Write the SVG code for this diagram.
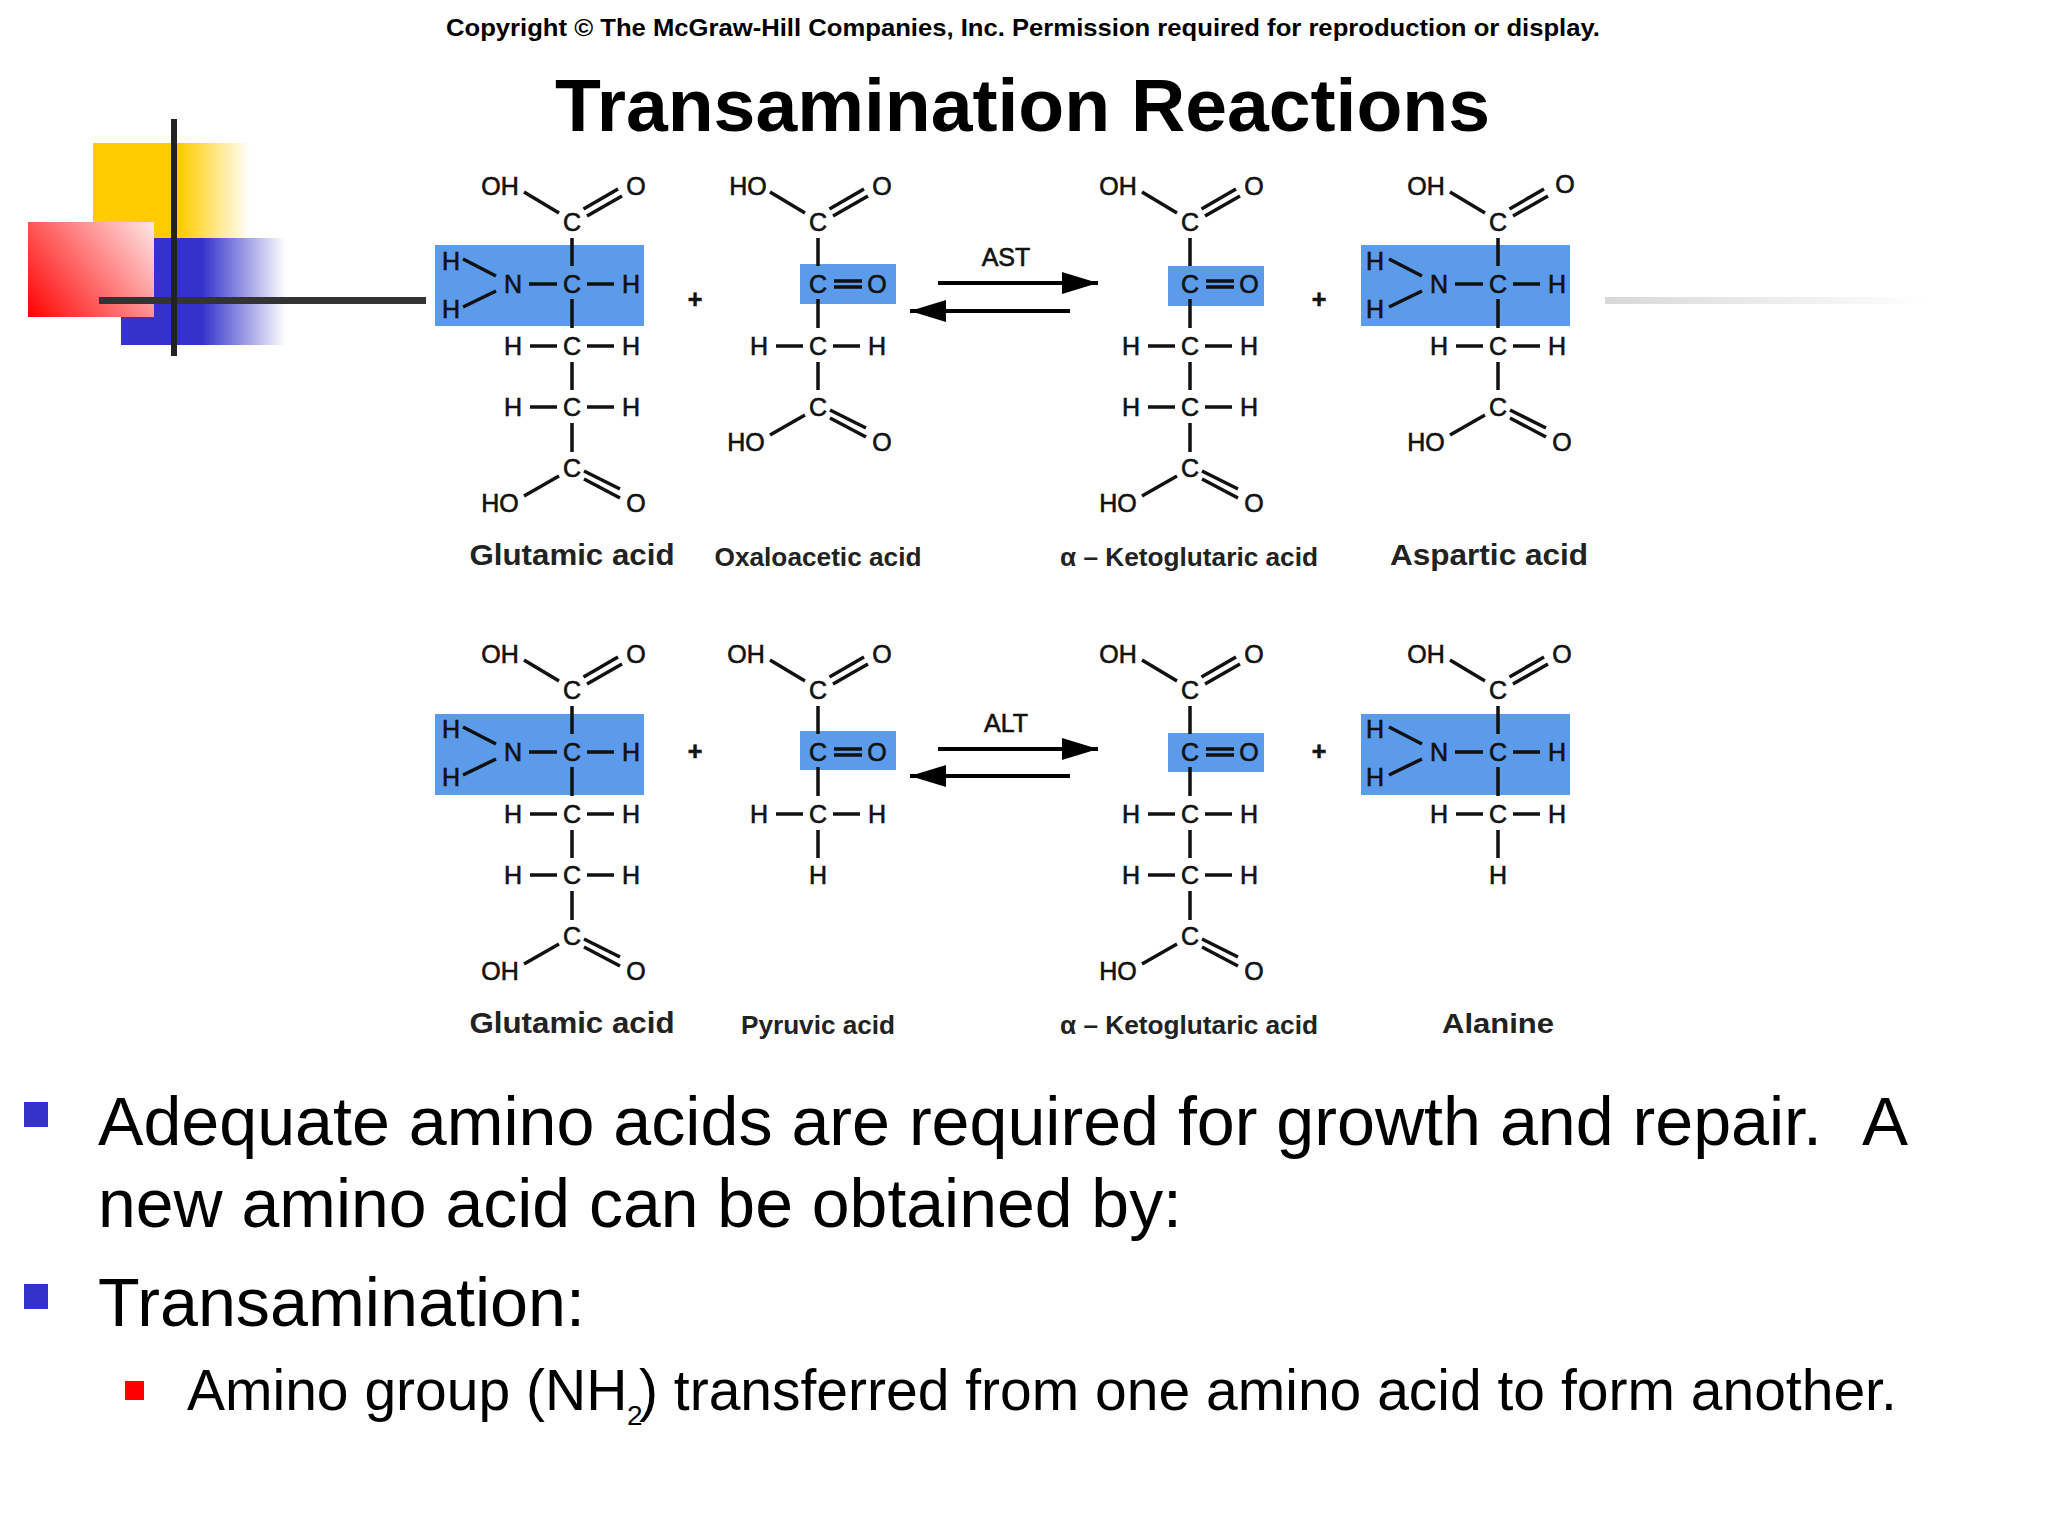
<svg xmlns="http://www.w3.org/2000/svg" width="2048" height="1536" viewBox="0 0 2048 1536">
<style>
text{font-family:"Liberation Sans",Arial,sans-serif;fill:#000;white-space:pre}
.a{font-size:25px;text-anchor:middle;fill:#111;stroke:#111;stroke-width:.6px;transform:translateY(1.3px)}
.n{font-size:25px;font-weight:700;text-anchor:middle;fill:#222}
.w{font-size:30px}
.b{font-size:69px}
.s{font-size:57px}
.l{stroke:#111;stroke-width:3.500;fill:none}
.box{fill:#5b9bea}
.ar{stroke:#000;stroke-width:4;fill:none}
</style>
<defs>
<linearGradient id="gy" gradientUnits="userSpaceOnUse" x1="180" y1="0" x2="250" y2="0"><stop offset="0" stop-color="#ffcc00"/><stop offset="1" stop-color="#fff"/></linearGradient>
<linearGradient id="gb" gradientUnits="userSpaceOnUse" x1="202" y1="0" x2="286" y2="0"><stop offset="0" stop-color="#3333cc"/><stop offset="1" stop-color="#fff"/></linearGradient>
<linearGradient id="gr" gradientUnits="userSpaceOnUse" x1="28" y1="318" x2="154" y2="222"><stop offset="0" stop-color="#ff0000"/><stop offset="1" stop-color="#ffe6e6"/></linearGradient>
<linearGradient id="gg" gradientUnits="userSpaceOnUse" x1="1605" y1="0" x2="1930" y2="0"><stop offset="0" stop-color="#d8d8d8"/><stop offset="1" stop-color="#fff"/></linearGradient>
<marker id="head" markerUnits="userSpaceOnUse" markerWidth="38" markerHeight="26" refX="36" refY="13" orient="auto-start-reverse"><path d="M0 2L36 13L0 24z" fill="#000"/></marker>
<g id="acidTop" class="l"><path d="M-48-92L-13-71M11.500-75L46-95M15-68L50-88M0-46V-18M0 15V44"/></g>
<g id="amine" class="l"><path d="M-43 0H-15M15 0H42M-109-25L-76-8M-109 23L-76 7"/></g>
<g id="keto" class="l"><path d="M16-3H44M16 3H44"/></g>
<g id="ch2" class="l"><path d="M-42 62H-15M15 62H42M0 78V106"/></g>
<g id="ch2b" class="l"><path d="M-42 123H-15M15 123H42M0 139V168"/></g>
<g id="acidBot" class="l"><path d="M-48 212L-13 192M12 187L48 205M12 195L48 214"/></g>
</defs>
<rect width="2048" height="1536" fill="#fff"/>
<g id="decor">
<rect x="93" y="143" width="157" height="97" fill="url(#gy)"/>
<rect x="121" y="238" width="165" height="107" fill="url(#gb)"/>
<rect x="28" y="222" width="126" height="95" fill="url(#gr)"/>
<rect x="1605" y="297" width="325" height="7" fill="url(#gg)"/>
<rect x="99" y="297" width="327" height="7" fill="#333"/>
<rect x="171" y="119" width="6" height="237" fill="#222"/>
</g>
<text id="copyright" x="446" y="36" font-size="24" font-weight="700" textLength="1154" lengthAdjust="spacingAndGlyphs">Copyright © The McGraw-Hill Companies, Inc. Permission required for reproduction or display.</text>
<text id="title" x="555" y="131" font-size="75" font-weight="700" textLength="935" lengthAdjust="spacingAndGlyphs">Transamination Reactions</text>

<g id="glutamic-top" transform="translate(572,284)">
<rect class="box" x="-137" y="-39" width="209" height="81"/>
<use href="#acidTop"/><use href="#amine"/><use href="#ch2"/><use href="#ch2b"/><use href="#acidBot"/>
<text class="a" x="-72" y="-90">OH</text><text class="a" x="64" y="-90">O</text><text class="a" x="0" y="-54">C</text>
<text class="a" x="-121" y="-15">H</text><text class="a" x="-121" y="33">H</text><text class="a" x="-59" y="8">N</text><text class="a" x="0" y="8">C</text><text class="a" x="59" y="8">H</text>
<text class="a" x="-59" y="70">H</text><text class="a" x="0" y="70">C</text><text class="a" x="59" y="70">H</text>
<text class="a" x="-59" y="131">H</text><text class="a" x="0" y="131">C</text><text class="a" x="59" y="131">H</text>
<text class="a" x="0" y="192">C</text><text class="a" x="-72" y="227">HO</text><text class="a" x="64" y="227">O</text>
<text class="n w" x="0" y="281" textLength="205" lengthAdjust="spacingAndGlyphs">Glutamic acid</text>
</g>
<g id="oxaloacetic" transform="translate(818,284)">
<rect class="box" x="-18" y="-20" width="96" height="40"/>
<use href="#acidTop"/><use href="#keto"/><use href="#ch2"/><use href="#acidBot" transform="translate(0,-61)"/>
<text class="a" x="-70" y="-90">HO</text><text class="a" x="64" y="-90">O</text><text class="a" x="0" y="-54">C</text>
<text class="a" x="0" y="8">C</text><text class="a" x="59" y="8">O</text>
<text class="a" x="-59" y="70">H</text><text class="a" x="0" y="70">C</text><text class="a" x="59" y="70">H</text>
<text class="a" x="0" y="131">C</text><text class="a" x="-72" y="166">HO</text><text class="a" x="64" y="166">O</text>
<text class="n" x="0" y="282" textLength="207" lengthAdjust="spacingAndGlyphs">Oxaloacetic acid</text>
</g>
<g id="ketoglutaric-top" transform="translate(1190,284)">
<rect class="box" x="-22" y="-18" width="96" height="40"/>
<use href="#acidTop"/><use href="#keto"/><use href="#ch2"/><use href="#ch2b"/><use href="#acidBot"/>
<text class="a" x="-72" y="-90">OH</text><text class="a" x="64" y="-90">O</text><text class="a" x="0" y="-54">C</text>
<text class="a" x="0" y="8">C</text><text class="a" x="59" y="8">O</text>
<text class="a" x="-59" y="70">H</text><text class="a" x="0" y="70">C</text><text class="a" x="59" y="70">H</text>
<text class="a" x="-59" y="131">H</text><text class="a" x="0" y="131">C</text><text class="a" x="59" y="131">H</text>
<text class="a" x="0" y="192">C</text><text class="a" x="-72" y="227">HO</text><text class="a" x="64" y="227">O</text>
<text class="n" x="-1" y="282" textLength="258" lengthAdjust="spacingAndGlyphs">α – Ketoglutaric acid</text>
</g>
<g id="aspartic" transform="translate(1498,284)">
<rect class="box" x="-137" y="-39" width="209" height="81"/>
<use href="#acidTop"/><use href="#amine"/><use href="#ch2"/><use href="#acidBot" transform="translate(0,-61)"/>
<text class="a" x="-72" y="-90">OH</text><text class="a" x="67" y="-92">O</text><text class="a" x="0" y="-54">C</text>
<text class="a" x="-123" y="-15">H</text><text class="a" x="-123" y="33">H</text><text class="a" x="-59" y="8">N</text><text class="a" x="0" y="8">C</text><text class="a" x="59" y="8">H</text>
<text class="a" x="-59" y="70">H</text><text class="a" x="0" y="70">C</text><text class="a" x="59" y="70">H</text>
<text class="a" x="0" y="131">C</text><text class="a" x="-72" y="166">HO</text><text class="a" x="64" y="166">O</text>
<text class="n w" x="-9" y="281" textLength="198" lengthAdjust="spacingAndGlyphs">Aspartic acid</text>
</g>

<g id="glutamic-bottom" transform="translate(572,752)">
<rect class="box" x="-137" y="-38" width="209" height="81"/>
<use href="#acidTop"/><use href="#amine"/><use href="#ch2"/><use href="#ch2b"/><use href="#acidBot"/>
<text class="a" x="-72" y="-90">OH</text><text class="a" x="64" y="-90">O</text><text class="a" x="0" y="-54">C</text>
<text class="a" x="-121" y="-15">H</text><text class="a" x="-121" y="33">H</text><text class="a" x="-59" y="8">N</text><text class="a" x="0" y="8">C</text><text class="a" x="59" y="8">H</text>
<text class="a" x="-59" y="70">H</text><text class="a" x="0" y="70">C</text><text class="a" x="59" y="70">H</text>
<text class="a" x="-59" y="131">H</text><text class="a" x="0" y="131">C</text><text class="a" x="59" y="131">H</text>
<text class="a" x="0" y="192">C</text><text class="a" x="-72" y="227">OH</text><text class="a" x="64" y="227">O</text>
<text class="n w" x="0" y="281" textLength="205" lengthAdjust="spacingAndGlyphs">Glutamic acid</text>
</g>
<g id="pyruvic" transform="translate(818,752)">
<rect class="box" x="-18" y="-21" width="96" height="39"/>
<use href="#acidTop"/><use href="#keto"/><use href="#ch2"/>
<text class="a" x="-72" y="-90">OH</text><text class="a" x="64" y="-90">O</text><text class="a" x="0" y="-54">C</text>
<text class="a" x="0" y="8">C</text><text class="a" x="59" y="8">O</text>
<text class="a" x="-59" y="70">H</text><text class="a" x="0" y="70">C</text><text class="a" x="59" y="70">H</text>
<text class="a" x="0" y="131">H</text>
<text class="n" x="0" y="282" textLength="154" lengthAdjust="spacingAndGlyphs">Pyruvic acid</text>
</g>
<g id="ketoglutaric-bottom" transform="translate(1190,752)">
<rect class="box" x="-22" y="-19" width="96" height="39"/>
<use href="#acidTop"/><use href="#keto"/><use href="#ch2"/><use href="#ch2b"/><use href="#acidBot"/>
<text class="a" x="-72" y="-90">OH</text><text class="a" x="64" y="-90">O</text><text class="a" x="0" y="-54">C</text>
<text class="a" x="0" y="8">C</text><text class="a" x="59" y="8">O</text>
<text class="a" x="-59" y="70">H</text><text class="a" x="0" y="70">C</text><text class="a" x="59" y="70">H</text>
<text class="a" x="-59" y="131">H</text><text class="a" x="0" y="131">C</text><text class="a" x="59" y="131">H</text>
<text class="a" x="0" y="192">C</text><text class="a" x="-72" y="227">HO</text><text class="a" x="64" y="227">O</text>
<text class="n" x="-1" y="282" textLength="258" lengthAdjust="spacingAndGlyphs">α – Ketoglutaric acid</text>
</g>
<g id="alanine" transform="translate(1498,752)">
<rect class="box" x="-137" y="-38" width="209" height="81"/>
<use href="#acidTop"/><use href="#amine"/><use href="#ch2"/>
<text class="a" x="-72" y="-90">OH</text><text class="a" x="64" y="-90">O</text><text class="a" x="0" y="-54">C</text>
<text class="a" x="-123" y="-15">H</text><text class="a" x="-123" y="33">H</text><text class="a" x="-59" y="8">N</text><text class="a" x="0" y="8">C</text><text class="a" x="59" y="8">H</text>
<text class="a" x="-59" y="70">H</text><text class="a" x="0" y="70">C</text><text class="a" x="59" y="70">H</text>
<text class="a" x="0" y="131">H</text>
<text class="n" x="0" y="281" style="font-size:28px" textLength="112" lengthAdjust="spacingAndGlyphs">Alanine</text>
</g>

<g id="connectors">
<path class="ar" d="M938 283H1098" marker-end="url(#head)"/>
<path class="ar" d="M1070 311H910" marker-end="url(#head)"/>
<path class="ar" d="M938 749H1098" marker-end="url(#head)"/>
<path class="ar" d="M1070 776H910" marker-end="url(#head)"/>
</g>
<g id="labels">
<text class="a" x="1006" y="265">AST</text>
<text class="a" x="1006" y="731">ALT</text>
<text class="a" x="695" y="307" style="font-weight:700">+</text>
<text class="a" x="1319" y="307" style="font-weight:700">+</text>
<text class="a" x="695" y="759" style="font-weight:700">+</text>
<text class="a" x="1319" y="759" style="font-weight:700">+</text>
</g>
<g id="bullets">
<rect x="24" y="1102" width="24" height="25" fill="#3333cc"/>
<text class="b" x="98" y="1145" textLength="1724" lengthAdjust="spacingAndGlyphs">Adequate amino acids are required for growth and repair.</text>
<text class="b" x="1862" y="1145">A</text>
<text class="b" x="98" y="1227" textLength="1084" lengthAdjust="spacingAndGlyphs">new amino acid can be obtained by:</text>
<rect x="24" y="1284" width="24" height="25" fill="#3333cc"/>
<text class="b" x="98" y="1326" textLength="487" lengthAdjust="spacingAndGlyphs">Transamination:</text>
<rect x="125" y="1381" width="19" height="19" fill="#ff0000"/>
<text class="s" x="187" y="1410">Amino group (NH<tspan x="627" y="1425" font-size="28">2</tspan><tspan x="639" y="1410">) transferred from one amino acid to form another.</tspan></text>
</g>
</svg>
